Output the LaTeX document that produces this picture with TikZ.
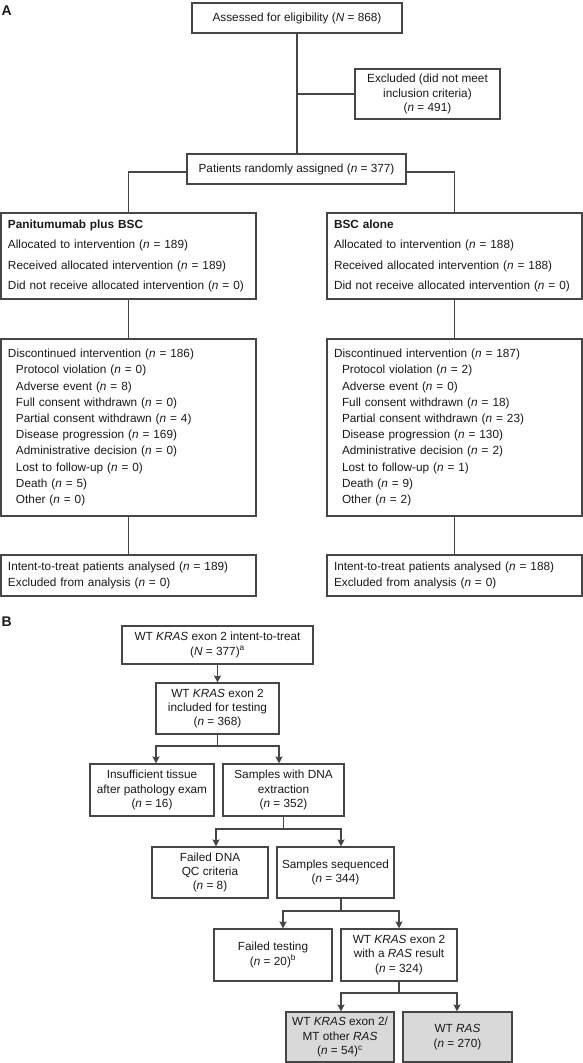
\documentclass[tikz,border=0pt]{standalone}
\usepackage{fontspec}
\setmainfont{Liberation Sans}
\usetikzlibrary{arrows.meta}
\definecolor{lc}{RGB}{70,70,70}
\definecolor{gfill}{RGB}{217,217,217}
\definecolor{tc}{RGB}{25,25,25}
\tikzset{
  box/.style={draw=lc, line width=1.1pt, inner sep=0pt, text=tc, align=center,
    font=\fontsize{11.8}{14.3}\selectfont},
  lbox/.style={box, align=left, inner xsep=7pt, text width=241pt, minimum width=255pt},
  gbox/.style={box, fill=gfill},
  ln/.style={draw=lc, line width=1.1pt},
  arr/.style={draw=lc, line width=1.1pt, -{Stealth[length=7pt,width=7pt,inset=1pt]}},
  lab/.style={font=\fontsize{14}{14}\selectfont\bfseries, anchor=base west, inner sep=0pt, text=tc}
}
\newcommand{\ii}{\hspace*{8pt}}
\begin{document}
\begin{tikzpicture}[x=1pt,y=-1pt]
\useasboundingbox (0,0) rectangle (583,1063);
% ---------- Part A ----------
\node[lab] (la) at (1.5,15.5) {A};
\node[box, minimum width=210pt, minimum height=30pt] (top) at (297,18) {Assessed for eligibility (\textit{N} = 868)};
\node[box, minimum width=145pt, minimum height=50pt] (exc) at (427.5,94) {Excluded (did not meet\\inclusion criteria)\\(\textit{n} = 491)};
\node[box, minimum width=219pt, minimum height=30pt] (pat) at (296.5,169) {Patients randomly assigned (\textit{n} = 377)};

\node[lbox, minimum height=86pt, font=\fontsize{11.8}{20.5}\selectfont] (l1) at (128.5,256)
 {\textbf{Panitumumab plus BSC}\\Allocated to intervention (\textit{n} = 189)\\Received allocated intervention (\textit{n} = 189)\\Did not receive allocated intervention (\textit{n} = 0)};
\node[lbox, minimum height=86pt, font=\fontsize{11.8}{20.5}\selectfont] (r1) at (454.5,256)
 {\textbf{BSC alone}\\Allocated to intervention (\textit{n} = 188)\\Received allocated intervention (\textit{n} = 188)\\Did not receive allocated intervention (\textit{n} = 0)};

\node[lbox, minimum height=177pt, font=\fontsize{11.8}{16.2}\selectfont] (l2) at (128.5,427.5)
 {Discontinued intervention (\textit{n} = 186)\\
  \ii Protocol violation (\textit{n} = 0)\\
  \ii Adverse event (\textit{n} = 8)\\
  \ii Full consent withdrawn (\textit{n} = 0)\\
  \ii Partial consent withdrawn (\textit{n} = 4)\\
  \ii Disease progression (\textit{n} = 169)\\
  \ii Administrative decision (\textit{n} = 0)\\
  \ii Lost to follow-up (\textit{n} = 0)\\
  \ii Death (\textit{n} = 5)\\
  \ii Other (\textit{n} = 0)};
\node[lbox, minimum height=177pt, font=\fontsize{11.8}{16.2}\selectfont] (r2) at (454.5,427.5)
 {Discontinued intervention (\textit{n} = 187)\\
  \ii Protocol violation (\textit{n} = 2)\\
  \ii Adverse event (\textit{n} = 0)\\
  \ii Full consent withdrawn (\textit{n} = 18)\\
  \ii Partial consent withdrawn (\textit{n} = 23)\\
  \ii Disease progression (\textit{n} = 130)\\
  \ii Administrative decision (\textit{n} = 2)\\
  \ii Lost to follow-up (\textit{n} = 1)\\
  \ii Death (\textit{n} = 9)\\
  \ii Other (\textit{n} = 2)};

\node[lbox, minimum height=41pt, font=\fontsize{11.8}{15.5}\selectfont] (l3) at (128.5,575.5)
 {Intent-to-treat patients analysed (\textit{n} = 189)\\Excluded from analysis (\textit{n} = 0)};
\node[lbox, minimum height=41pt, font=\fontsize{11.8}{15.5}\selectfont] (r3) at (454.5,575.5)
 {Intent-to-treat patients analysed (\textit{n} = 188)\\Excluded from analysis (\textit{n} = 0)};

\coordinate (pl) at (128.5,172);
\coordinate (pr) at (454.5,172);
\draw[ln] (top.south) -- (top.south |- pat.north);
\draw[ln] (top.south |- exc.west) -- (exc.west);
\draw[ln] (pat.west |- pl) -- (pl) -- (l1.north);
\draw[ln] (pat.east |- pr) -- (pr) -- (r1.north);
\draw[ln] (l1.south) -- (l2.north);
\draw[ln] (r1.south) -- (r2.north);
\draw[ln] (l2.south) -- (l3.north);
\draw[ln] (r2.south) -- (r3.north);

% ---------- Part B ----------
\node[lab] (lb) at (1.5,626) {B};
\node[box, minimum width=191pt, minimum height=38pt] (b1) at (217.5,645) {WT \textit{KRAS} exon 2 intent-to-treat\\(\textit{N} = 377)\textsuperscript{a}};
\node[box, minimum width=123pt, minimum height=51pt] (b2) at (217.5,708.5) {WT \textit{KRAS} exon 2\\included for testing\\(\textit{n} = 368)};
\node[box, minimum width=124pt, minimum height=52pt] (b3) at (152,790) {Insufficient tissue\\after pathology exam\\(\textit{n} = 16)};
\node[box, minimum width=121pt, minimum height=52pt] (b4) at (283.5,790) {Samples with DNA\\extraction\\(\textit{n} = 352)};
\node[box, minimum width=116pt, minimum height=51pt] (b5) at (210,872.5) {Failed DNA\\QC criteria\\(\textit{n} = 8)};
\node[box, minimum width=117pt, minimum height=51pt] (b6) at (335.5,872.5) {Samples sequenced\\(\textit{n} = 344)};
\node[box, minimum width=118pt, minimum height=52pt] (b7) at (273,955) {Failed testing\\(\textit{n} = 20)\textsuperscript{b}};
\node[box, minimum width=116pt, minimum height=52pt] (b8) at (399,955) {WT \textit{KRAS} exon 2\\with a \textit{RAS} result\\(\textit{n} = 324)};
\node[gbox, minimum width=108pt, minimum height=50pt] (b9) at (340,1037) {WT \textit{KRAS} exon 2/\\MT other \textit{RAS}\\(\textit{n} = 54)\textsuperscript{c}};
\node[gbox, minimum width=109pt, minimum height=50pt] (b10) at (457.5,1037) {WT \textit{RAS}\\(\textit{n} = 270)};

\draw[arr] (b1.south) -- (b2.north);

\coordinate (j1) at (217.5,746);
\coordinate (j1l) at (156,746);
\coordinate (j1r) at (279,746);
\draw[ln] (b2.south) -- (j1);
\draw[arr] (j1) -- (j1l) -- (j1l |- b3.north);
\draw[arr] (j1) -- (j1r) -- (j1r |- b4.north);

\coordinate (j2) at (283.5,829);
\coordinate (j2l) at (216,829);
\coordinate (j2r) at (341,829);
\draw[ln] (b4.south) -- (j2);
\draw[arr] (j2) -- (j2l) -- (j2l |- b5.north);
\draw[arr] (j2) -- (j2r) -- (j2r |- b6.north);

\coordinate (j3) at (341,911);
\coordinate (j3l) at (283,911);
\coordinate (j3r) at (399,911);
\draw[ln] (j3 |- b6.south) -- (j3);
\draw[arr] (j3) -- (j3l) -- (j3l |- b7.north);
\draw[arr] (j3) -- (j3r) -- (j3r |- b8.north);

\coordinate (j4) at (399,993);
\coordinate (j4l) at (341,993);
\coordinate (j4r) at (457,993);
\draw[ln] (b8.south) -- (j4);
\draw[arr] (j4) -- (j4l) -- (j4l |- b9.north);
\draw[arr] (j4) -- (j4r) -- (j4r |- b10.north);
\end{tikzpicture}
\end{document}
